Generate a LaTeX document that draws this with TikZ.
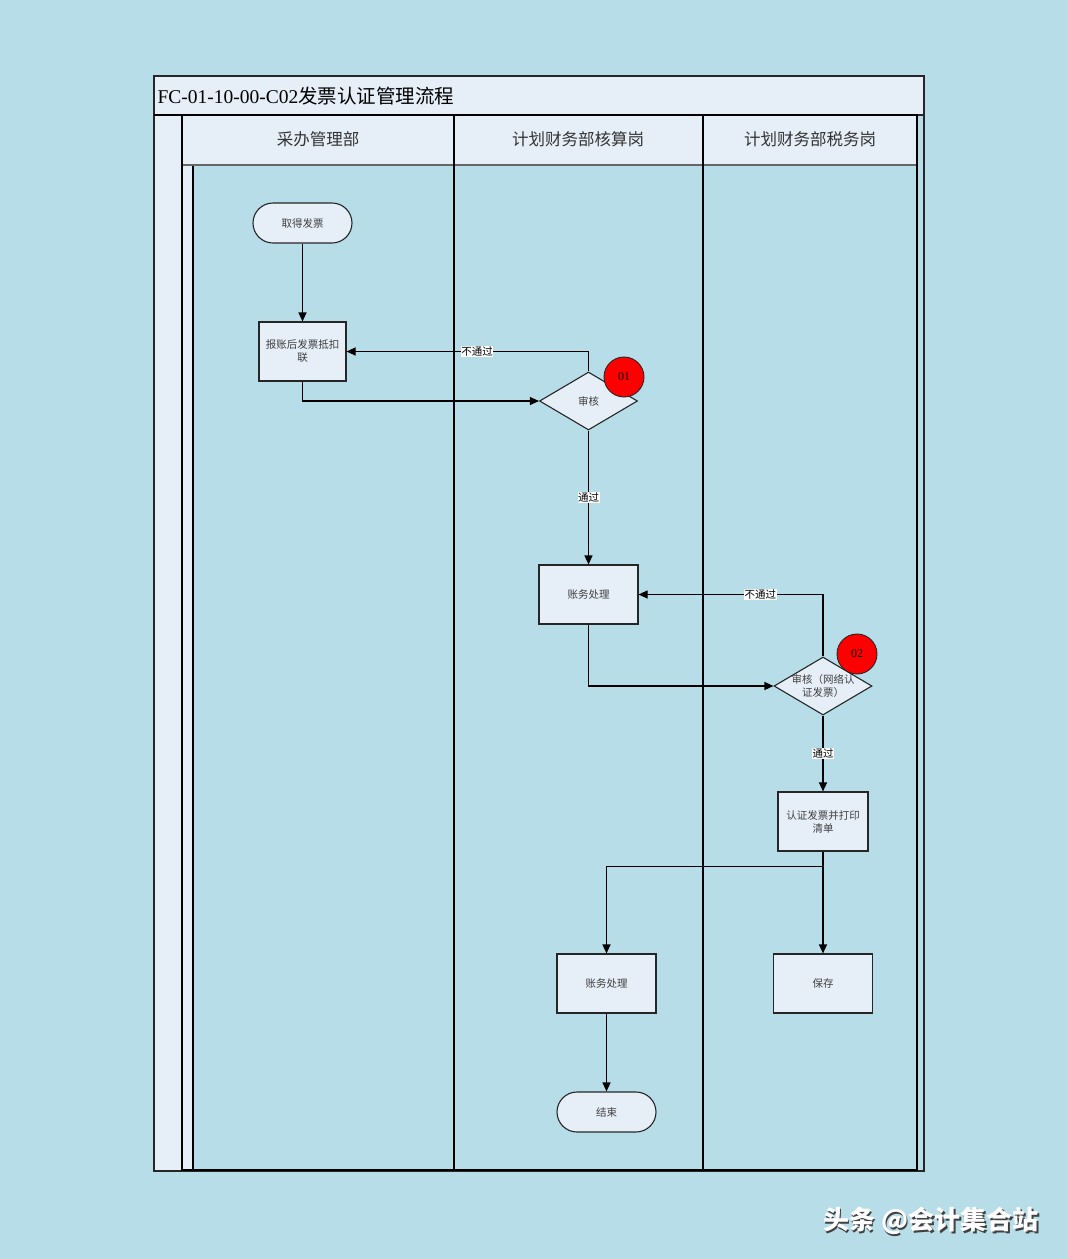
\documentclass[tikz,border=0pt]{standalone}
\usepackage{fontspec}
\setmainfont{Liberation Serif}
\newfontfamily\cjk{Noto Sans CJK SC}
\usetikzlibrary{shapes.geometric,arrows.meta}
\definecolor{bgblue}{HTML}{B7DDE8}
\definecolor{boxfill}{HTML}{E6EEF8}
\definecolor{txtgray}{HTML}{404040}
\tikzset{
  proc/.style={draw=black!85, fill=boxfill, line width=1.1pt, minimum width=99pt,
    minimum height=59pt, align=center, text=txtgray, inner sep=2pt,
    font=\cjk\fontsize{10.5}{13}\selectfont},
  term/.style={proc, rounded corners=20pt, minimum height=40pt},
  check/.style={draw=black!85, fill=boxfill, line width=1.1pt, diamond,
    minimum width=98pt, minimum height=58pt, inner sep=0pt},
  checktext/.style={align=center, text=txtgray, font=\cjk\fontsize{10.5}{13}\selectfont},
  badge/.style={circle, draw=black!85, fill=red, line width=0.9pt, minimum size=40pt,
    inner sep=0pt, font=\fontsize{12}{14}\selectfont},
  flow/.style={line width=1.1pt, -{Triangle[length=9pt,width=8pt]}},
  tag/.style={fill=white, inner sep=0.5pt, font=\cjk\fontsize{10.5}{12}\selectfont},
  lanehead/.style={text=black!80, font=\cjk\fontsize{16.5}{20}\selectfont}
}

\begin{document}
\begin{tikzpicture}[x=1pt,y=-1pt]
	%%%%% FRAME %%%%%
	\fill[bgblue] (0,0) rectangle (1067,1259);
	\useasboundingbox (0,0) rectangle (1067,1259);
	
	\draw[line width=1.3pt, draw=black!85, fill=boxfill] (154,76) rectangle (924,115);
	\node[anchor=west, font=\fontsize{19.5}{22}\selectfont] (title) at (154,96) {FC-01-10-00-C02{\cjk 发票认证管理流程}};
	
	\draw[line width=1.3pt, draw=black!85] (154,115) rectangle (924,1171);
	\draw[line width=1.3pt, draw=black!85, fill=boxfill] (154,115) rectangle (182,1171);
	\draw[line width=2pt] (154,115) -- (182,115);
	\draw[line width=1.2pt, fill=boxfill] (182,165) rectangle (193,1170);
	\draw[line width=1.2pt, draw=black!80, fill=boxfill] (182,115) rectangle (917,165);
	\draw[line width=2pt, draw=black!60] (182,165) -- (917,165);
	\draw[line width=1.5pt] (182,115) rectangle (917,1170);
	\draw[line width=2pt] (454,115) -- (454,1170);
	\draw[line width=2pt] (703,115) -- (703,1170);
	
	\node[lanehead] (lane1) at (318,139) {采办管理部};
	\node[lanehead] (lane2) at (578,139) {计划财务部核算岗};
	\node[lanehead] (lane3) at (810,139) {计划财务部税务岗};
	
	%%%%% STEPS %%%%%
	\node[term] (getinv) at (302.5,223) {取得发票};
	\node[proc, minimum width=87pt] (deduct) at (302.5,351.5) {报账后发票抵扣\\联};
	\node[check, label={[checktext]center:审核}] (check1) at (588.5,401) {};
	\node[proc] (acct1) at (588.5,594.5) {账务处理};
	\node[check, label={[checktext]center:审核（网络认\\证发票）}] (check2) at (823,686) {};
	\node[proc, minimum width=90pt] (certify) at (823,821.5) {认证发票并打印\\清单};
	\node[proc] (acct2) at (606.5,983.5) {账务处理};
	\node[proc] (store) at (823,983.5) {保存};
	\node[term] (finish) at (606.5,1112) {结束};
	
	\node[badge] (risk1) at (624,377) {01};
	\node[badge] (risk2) at (857,654) {02};
	
	%%%%% FLOWS %%%%%
	\draw[flow] (getinv) -- (deduct);
	\draw[flow] (deduct.south) |- (check1.west);
	\draw[flow] (check1.north) |- node[tag, pos=0.73] {不通过} (deduct.east);
	\draw[flow] (check1) -- node[tag] {通过} (acct1);
	\draw[flow] (check2.north) |- node[tag, pos=0.67] {不通过} (acct1.east);
	\draw[flow] (acct1.south) |- (check2.west);
	\draw[flow] (check2) -- node[tag] {通过} (certify);
	\draw[flow] (certify.south) -- ++(0,15) -| (acct2.north);
	\draw[flow] (certify.south) -- (store.north);
	\draw[flow] (acct2) -- (finish);
	
	%%%%% MARK %%%%%
	\node[text=black!75, font=\cjk\bfseries\fontsize{26}{30}\selectfont] (wmshadow) at (932.5,1222.5) {头条 @会计集合站};
	\node[text=white, font=\cjk\bfseries\fontsize{26}{30}\selectfont] (wm) at (931,1221) {头条 @会计集合站};
\end{tikzpicture}
\end{document}
